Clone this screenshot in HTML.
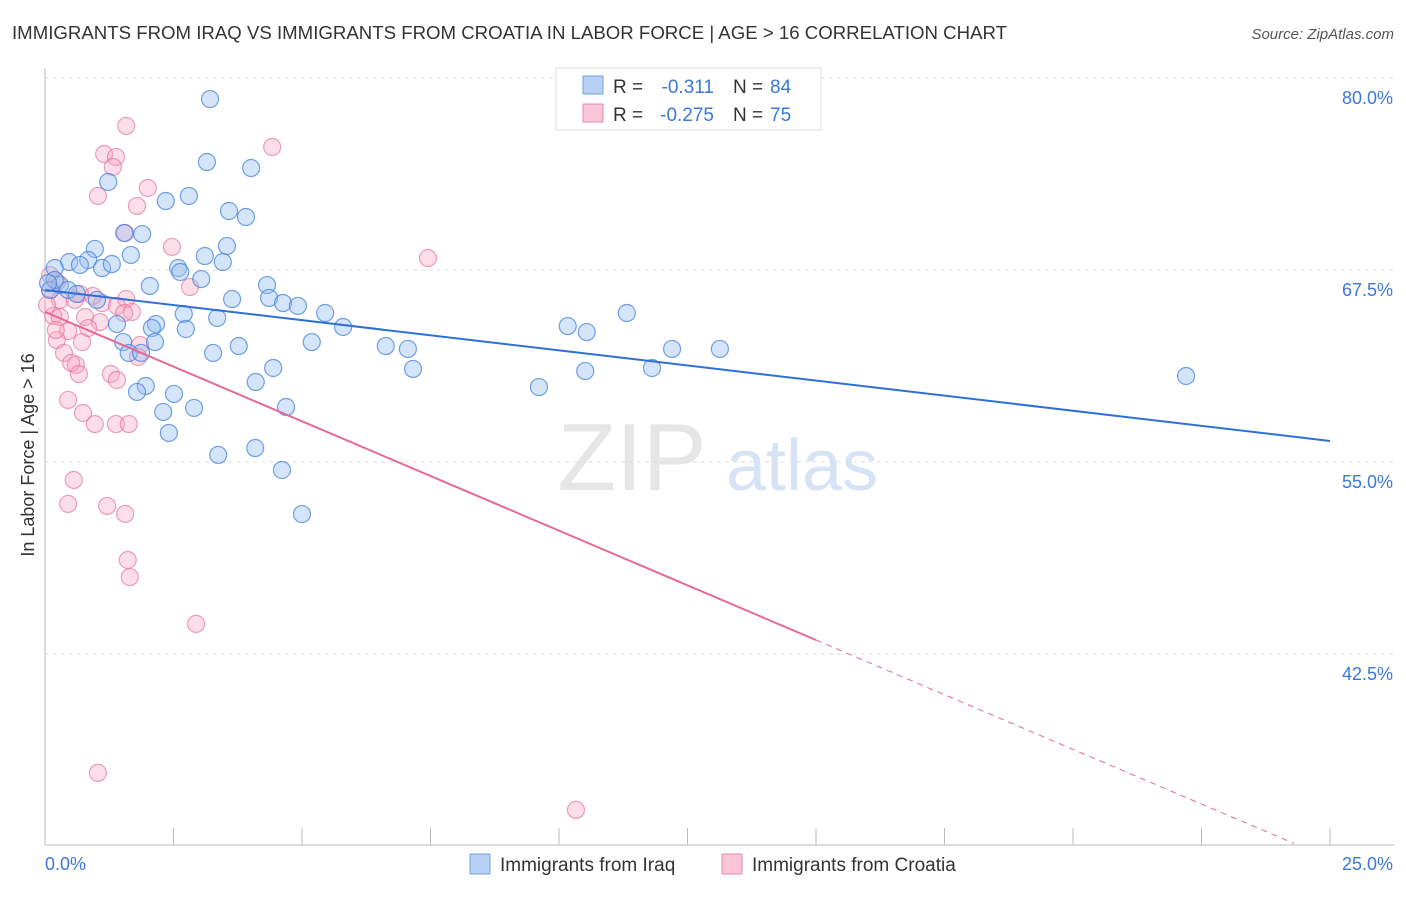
<!DOCTYPE html>
<html><head><meta charset="utf-8"><style>
body{margin:0;background:#fff;font-family:"Liberation Sans",sans-serif}
svg text{font-family:"Liberation Sans",sans-serif}
</style></head><body>
<svg id="c" width="1406" height="892" xmlns="http://www.w3.org/2000/svg">
<text x="12" y="39" font-size="18" fill="#333" textLength="995" lengthAdjust="spacingAndGlyphs">IMMIGRANTS FROM IRAQ VS IMMIGRANTS FROM CROATIA IN LABOR FORCE | AGE &gt; 16 CORRELATION CHART</text>
<text x="1394" y="39" font-size="15" fill="#555" font-style="italic" text-anchor="end">Source: ZipAtlas.com</text>
<text x="34" y="455" font-size="18" fill="#333" text-anchor="middle" transform="rotate(-90 34 455)">In Labor Force | Age &gt; 16</text>
<g><text x="632" y="490" font-size="96" fill="#e6e6e6" font-family="Liberation Serif" text-anchor="middle">ZIP</text><text x="802" y="490" font-size="72" fill="#d6e3f5" text-anchor="middle">atlas</text></g>
<g id="grid"></g><g id="pts"></g><g id="lines"></g>
<g>
<rect x="556" y="68" width="265" height="62" fill="#fff" stroke="#ddd"/>
<rect x="583" y="76" width="20" height="18" fill="#b8d0f5" stroke="#6f9fe0"/>
<rect x="583" y="104" width="20" height="18" fill="#fac6d6" stroke="#e889a8"/>
<text x="613" y="93" font-size="19" fill="#333">R =</text><text x="714" y="93" font-size="19" fill="#3b78d8" text-anchor="end">-0.311</text><text x="733" y="93" font-size="19" fill="#333">N =</text><text x="770" y="93" font-size="19" fill="#3b78d8">84</text>
<text x="613" y="121" font-size="19" fill="#333">R =</text><text x="714" y="121" font-size="19" fill="#3b78d8" text-anchor="end">-0.275</text><text x="733" y="121" font-size="19" fill="#333">N =</text><text x="770" y="121" font-size="19" fill="#3b78d8">75</text>
</g>
<g>
<rect x="470" y="854" width="20" height="20" fill="#b8d0f5" stroke="#6f9fe0"/>
<text x="500" y="871" font-size="19" fill="#333">Immigrants from Iraq</text>
<rect x="722" y="854" width="20" height="20" fill="#fac6d6" stroke="#e889a8"/>
<text x="752" y="871" font-size="19" fill="#333">Immigrants from Croatia</text>
</g>
</svg>
<script>
const yTicks=[80,67.5,55,42.5];
const yTickLabels=["80.0%","67.5%","55.0%","42.5%"];
const xTickLabels=["0.0%","25.0%"];
const iraqX=[3.21,3.15,4.01,1.23,2.35,2.80,3.58,3.91,1.54,1.89,0.97,1.67,3.11,3.54,3.46,0.84,0.47,0.19,0.68,1.11,1.30,2.59,2.63,3.04,2.04,4.32,0.29,0.10,0.45,0.62,1.01,3.64,4.36,4.63,4.92,5.45,2.70,3.35,1.40,2.16,2.08,2.74,5.80,10.17,10.54,11.32,2.14,1.52,3.77,5.19,6.63,7.06,12.20,13.13,3.27,1.63,1.87,4.44,7.16,10.51,11.81,22.20,4.10,1.96,1.79,2.51,9.61,2.90,4.69,2.30,2.41,4.09,3.37,4.61,5.00,0.19,0.06];
const iraqY=[78.63,74.53,74.14,73.23,71.99,72.32,71.34,70.95,69.91,69.84,68.87,68.48,68.41,69.06,68.02,68.15,68.02,67.63,67.83,67.63,67.89,67.63,67.37,66.91,66.46,66.52,66.52,66.20,66.20,65.94,65.55,65.61,65.68,65.35,65.16,64.70,64.64,64.38,63.98,63.98,63.72,63.66,63.79,63.85,63.46,64.70,62.81,62.81,62.55,62.81,62.55,62.36,62.36,62.36,62.10,62.10,62.10,61.12,61.06,60.92,61.12,60.60,60.21,59.95,59.56,59.43,59.88,58.52,58.58,58.26,56.89,55.91,55.46,54.48,51.61,66.85,66.65];
const croX=[1.58,4.42,1.15,1.38,1.32,2.00,1.03,1.79,1.56,2.47,7.45,0.10,0.23,0.10,2.82,0.68,1.58,1.11,1.40,1.69,1.54,0.16,0.29,0.78,1.07,0.45,0.84,0.23,0.72,1.85,0.37,0.60,0.51,1.81,1.28,1.40,0.66,0.45,0.74,0.97,1.38,1.63,0.56,0.45,1.21,1.56,1.61,1.65,2.94,1.03,10.33,0.29,0.04,0.58,0.93,0.21];
const croY=[76.88,75.51,75.05,74.86,74.21,72.84,72.32,71.67,69.91,69.00,68.28,67.17,66.72,66.20,66.39,65.94,65.61,65.35,65.16,64.77,64.70,64.51,64.44,64.44,64.11,63.53,63.72,62.94,62.81,62.62,62.10,61.32,61.45,61.84,60.73,60.34,60.73,59.04,58.19,57.47,57.47,57.47,53.83,52.27,52.14,51.62,48.62,47.51,44.46,34.76,32.35,65.55,65.22,65.55,65.81,63.59];
const iraqTrend=[66.20,56.37];
const croTrend=[64.77,43.41,29.17];
const NS="http://www.w3.org/2000/svg";
const X=v=>45+v/25*1285, Y=v=>270-(v-67.5)*15.36;
function mk(t,a,p){const e=document.createElementNS(NS,t);for(const k in a)e.setAttribute(k,a[k]);p.appendChild(e);return e;}
const g=document.getElementById('grid');
let ax=mk('line',{x1:45,y1:68,x2:45,y2:845,stroke:'#bbb'},g);


let bx=mk('line',{x1:45,y1:845,x2:1394,y2:845,stroke:'#bbb'},g);


for(let i=0;i<=10;i++){const t=mk('line',{x1:X(i*2.5),y1:828,x2:X(i*2.5),y2:845,stroke:'#bbb'},g);

}
yTicks.forEach((v,i)=>{const l=mk('line',{x1:45,y1:Y(v),x2:1394,y2:Y(v),stroke:'#ddd','stroke-dasharray':'4,4'},g);


const t=mk('text',{x:1393,y:Y(v)+26,'font-size':18,fill:'#3b78d8','text-anchor':'end'},g);t.textContent=yTickLabels[i];

});
xTickLabels.forEach((s,i)=>{const t=mk('text',{x:i?1393:45,y:870,'font-size':18,fill:'#3b78d8','text-anchor':i?'end':'start'},g);t.textContent=s;

});
const p=document.getElementById('pts');
croX.forEach((v,i)=>{const c=mk('circle',{cx:X(v),cy:Y(croY[i]),r:8.5,fill:'rgba(245,160,190,0.35)',stroke:'rgba(230,120,160,0.7)','stroke-width':1.2},p);

});
iraqX.forEach((v,i)=>{const c=mk('circle',{cx:X(v),cy:Y(iraqY[i]),r:8.5,fill:'rgba(150,190,240,0.4)',stroke:'rgba(70,130,220,0.75)','stroke-width':1.2},p);

});
const L=document.getElementById('lines');
let a=mk('line',{x1:X(0),y1:Y(iraqTrend[0]),x2:X(25),y2:Y(iraqTrend[1]),stroke:'#2f6fd8','stroke-width':2},L);


let b=mk('line',{x1:X(0),y1:Y(croTrend[0]),x2:X(15),y2:Y(croTrend[1]),stroke:'#e66a94','stroke-width':2},L);


let d=mk('line',{x1:X(15),y1:Y(croTrend[1]),x2:X(24.3),y2:Y(croTrend[1]+(croTrend[2]-croTrend[1])*9.3/10),stroke:'#e66a94','stroke-width':1,'stroke-dasharray':'6,5'},L);


</script>
</body></html>
